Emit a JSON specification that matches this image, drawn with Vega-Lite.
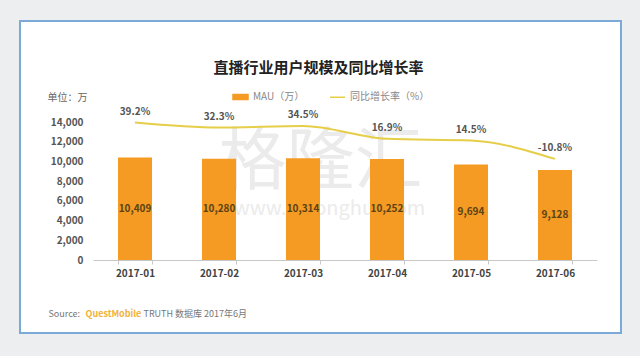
{
  "$schema": "https://vega.github.io/schema/vega-lite/v6.json",
  "width": 601,
  "height": 312,
  "autosize": {"type": "none"},
  "padding": {"left": 20, "top": 21, "right": 19, "bottom": 23},
  "background": "#eceef0",
  "config": {
    "font": "Noto Sans CJK SC",
    "view": {"fill": "#ffffff", "stroke": "#7BAAD8", "strokeWidth": 2},
    "locale": {"number": {"decimal": ".", "thousands": ",", "grouping": [3], "currency": ["$", ""], "minus": "-"}}
  },
  "title": {
    "text": "直播行业用户规模及同比增长率",
    "fontSize": 15,
    "fontWeight": "bold",
    "color": "#222222",
    "anchor": "middle",
    "frame": "group",
    "offset": 0,
    "dx": -2,
    "dy": 55
  },
  "data": {
    "values": [
      {"month": "2017-01", "mau": 10409, "rate": 0.392},
      {"month": "2017-02", "mau": 10280, "rate": 0.323},
      {"month": "2017-03", "mau": 10314, "rate": 0.345},
      {"month": "2017-04", "mau": 10252, "rate": 0.169},
      {"month": "2017-05", "mau": 9694, "rate": 0.145},
      {"month": "2017-06", "mau": 9128, "rate": -0.108}
    ]
  },
  "layer": [
    {
      "mark": {"type": "bar"},
      "encoding": {
        "x": {
          "field": "month",
          "type": "ordinal",
          "scale": {"range": [73, 577], "paddingInner": 0.595, "paddingOuter": 0.2976},
          "axis": {
            "orient": "bottom",
            "offset": -73,
            "title": "Source:",
            "titleX": 28,
            "titleY": 53,
            "titleAlign": "left",
            "titleBaseline": "middle",
            "titleFontSize": 9,
            "titleFontWeight": "normal",
            "titleColor": "#777777",
            "labelAngle": 0,
            "labelFontSize": 10,
            "labelFontWeight": "bold",
            "labelColor": "#444444",
            "labelPadding": 4,
            "tickBand": "extent",
            "tickSize": 4,
            "tickColor": "#C8C8C8",
            "domainColor": "#C8C8C8",
            "grid": false
          }
        },
        "y": {
          "field": "mau",
          "type": "quantitative",
          "scale": {"domain": [0, 14000], "range": [239, 101], "nice": false},
          "axis": {
            "orient": "left",
            "offset": -73,
            "values": [0, 2000, 4000, 6000, 8000, 10000, 12000, 14000],
            "format": ",d",
            "domain": false,
            "ticks": false,
            "grid": false,
            "labelPadding": 10,
            "labelFontSize": 10,
            "labelFontWeight": "bold",
            "labelColor": "#555555",
            "title": "单位：万",
            "titleAngle": 0,
            "titleX": -46,
            "titleY": 76,
            "titleAlign": "left",
            "titleBaseline": "middle",
            "titleFontSize": 10,
            "titleFontWeight": "normal",
            "titleColor": "#666666"
          }
        },
        "color": {
          "datum": "MAU（万）",
          "type": "nominal",
          "scale": {"domain": ["MAU（万）", "同比增长率（%）"], "range": ["#F59A23", "#E6CE48"]},
          "legend": {
            "orient": "none",
            "legendX": 212,
            "legendY": 67.5,
            "direction": "horizontal",
            "title": null,
            "padding": 0,
            "symbolSize": 225,
            "labelFontSize": 10,
            "labelColor": "#888888",
            "labelOffset": 4,
            "columnPadding": 22,
            "encode": {
              "symbols": {
                "update": {
                  "shape": {"signal": "datum.value === 'MAU（万）' ? 'M-1,-0.33H1V0.33H-1Z' : 'stroke'"},
                  "fill": {"signal": "datum.value === 'MAU（万）' ? '#F59A23' : 'transparent'"},
                  "stroke": {"signal": "datum.value === 'MAU（万）' ? 'transparent' : '#E6CE48'"},
                  "strokeWidth": {"value": 1.5},
                  "opacity": {"value": 1}
                }
              }
            }
          }
        }
      }
    },
    {
      "mark": {"type": "text", "fontSize": 10, "fontWeight": "bold", "color": "#5B4316"},
      "encoding": {
        "x": {
          "field": "month",
          "type": "ordinal",
          "axis": {
            "orient": "top",
            "domain": false,
            "ticks": false,
            "labels": false,
            "grid": false,
            "title": "格隆汇",
            "titleX": 300,
            "titleY": 142,
            "titleAlign": "center",
            "titleBaseline": "middle",
            "titleFontSize": 68,
            "titleFontWeight": "normal",
            "titleColor": "#ebebeb"
          }
        },
        "y": {
          "field": "mau",
          "type": "quantitative",
          "scale": {"domain": [0, 28000], "range": [239, 101], "nice": false},
          "axis": null
        },
        "text": {"field": "mau", "type": "quantitative", "format": ","}
      }
    },
    {
      "mark": {"type": "line", "interpolate": "monotone", "strokeWidth": 2},
      "encoding": {
        "x": {
          "field": "month",
          "type": "ordinal",
          "axis": {
            "orient": "top",
            "domain": false,
            "ticks": false,
            "labels": false,
            "grid": false,
            "title": "www.gelonghui.com",
            "titleX": 309,
            "titleY": 187,
            "titleAlign": "center",
            "titleBaseline": "middle",
            "titleFontSize": 20,
            "titleFontWeight": "normal",
            "titleColor": "#ebebeb"
          }
        },
        "y": {
          "field": "rate",
          "type": "quantitative",
          "scale": {"domain": [-1.5, 0.4], "range": [239, 101], "nice": false, "zero": false},
          "axis": {
            "orient": "right",
            "domain": false,
            "ticks": false,
            "labels": false,
            "grid": false,
            "title": "QuestMobile",
            "titleAngle": 0,
            "titleX": -536,
            "titleY": 292,
            "titleAlign": "left",
            "titleBaseline": "middle",
            "titleFontSize": 9,
            "titleFontWeight": "bold",
            "titleColor": "#F2B23A"
          }
        },
        "color": {"datum": "同比增长率（%）", "type": "nominal"}
      }
    },
    {
      "mark": {"type": "text", "fontSize": 10, "fontWeight": "bold", "color": "#555555", "dy": -11},
      "encoding": {
        "x": {
          "field": "month",
          "type": "ordinal",
          "axis": {
            "orient": "top",
            "domain": false,
            "ticks": false,
            "labels": false,
            "grid": false,
            "title": "TRUTH 数据库 2017年6月",
            "titleX": 123,
            "titleY": 292,
            "titleAlign": "left",
            "titleBaseline": "middle",
            "titleFontSize": 9,
            "titleFontWeight": "normal",
            "titleColor": "#777777"
          }
        },
        "y": {
          "field": "rate",
          "type": "quantitative",
          "scale": {"domain": [-1.5, 0.4], "range": [239, 101], "nice": false, "zero": false},
          "axis": null
        },
        "text": {"field": "rate", "type": "quantitative", "format": ".1%"}
      }
    }
  ],
  "resolve": {
    "scale": {"y": "independent"},
    "axis": {"x": "independent", "y": "independent"}
  }
}
